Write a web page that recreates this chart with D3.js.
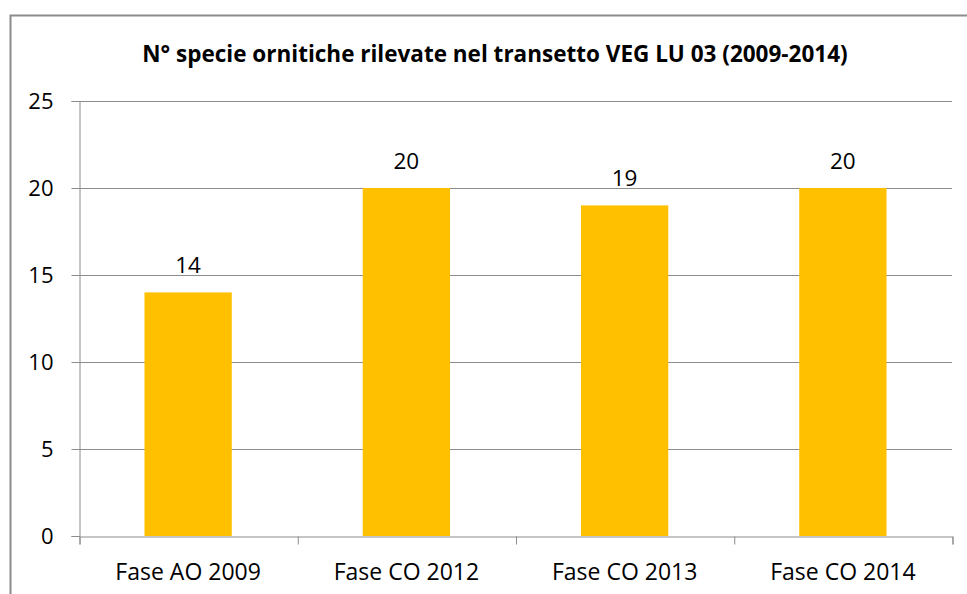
<!DOCTYPE html>
<html>
<head>
    <title>N° specie ornitiche</title>
    <script src='https://d3js.org/d3.v7.min.js'></script>
    <style>
        html, body {margin: 0; padding: 0; background: #fff;}
        text {font-family: 'Open Sans', sans-serif; fill: #000;}
    </style>
</head>
<body>
<div id="vis"></div>
<script>

// data
var categories = ["Fase AO 2009", "Fase CO 2012", "Fase CO 2013", "Fase CO 2014"];
var values = [14, 20, 19, 20];
var yTicks = [0, 5, 10, 15, 20, 25];
var title = "N° specie ornitiche rilevate nel transetto VEG LU 03 (2009-2014)";

var width = 967, height = 594;
var margin = {top: 101, left: 79, right: 15};

var svg = d3.select('#vis')
    .append('svg')
    .attr('width', width)
    .attr('height', height);

// chart frame (runs off the right and bottom edges)
svg.append('rect')
    .attr('x', 10.5).attr('y', 15.5)
    .attr('width', 980).attr('height', 600)
    .attr('fill', 'none')
    .attr('stroke', '#8c8c8c')
    .attr('stroke-width', 2);

svg.append('text')
    .attr('x', 495).attr('y', 62)
    .attr('text-anchor', 'middle')
    .style('font-weight', 'bold')
    .style('font-size', '22.5px')
    .text(title);

var g = svg.append('g')
    .attr('transform', 'translate(' + margin.left + ',' + margin.top + ')');
var w = width - margin.left - margin.right;
var h = 435;

var x_scale = d3.scaleBand().domain(categories).range([0, w]);
var y_scale = d3.scaleLinear().domain([0, 25]).range([h, 0]);

// gridlines
g.selectAll('.grid').data(yTicks.filter(function(d) {return d > 0;}))
    .enter().append('line')
    .attr('x1', 0).attr('x2', w)
    .attr('y1', function(d) {return Math.round(y_scale(d)) + 0.5;})
    .attr('y2', function(d) {return Math.round(y_scale(d)) + 0.5;})
    .attr('stroke', '#8c8c8c');

// y axis
var yAxis = g.append('g').attr('transform', 'translate(0.5,0)')
    .call(d3.axisLeft(y_scale).tickValues(yTicks).tickSize(8).tickPadding(8));
yAxis.select('.domain').attr('stroke', '#8c8c8c');
yAxis.selectAll('.tick line').attr('stroke', '#8c8c8c');
yAxis.selectAll('text').style('font-size', '22px').attr('fill', '#000').attr('dx', '-10');

// bars
var barW = x_scale.bandwidth() * 0.4;
g.selectAll('.bar').data(values).enter().append('rect')
    .attr('class', 'bar')
    .attr('x', function(d, i) {return x_scale(categories[i]) + (x_scale.bandwidth() - barW) / 2;})
    .attr('y', function(d) {return y_scale(d);})
    .attr('width', barW)
    .attr('height', function(d) {return h - y_scale(d);})
    .attr('fill', '#ffc000');

// value labels
g.selectAll('.lbl').data(values).enter().append('text')
    .attr('x', function(d, i) {return x_scale(categories[i]) + x_scale.bandwidth() / 2;})
    .attr('y', function(d) {return y_scale(d) - 19;})
    .attr('text-anchor', 'middle')
    .style('font-size', '22.5px')
    .text(function(d) {return d;});

// x axis
var xAxis = g.append('g').attr('transform', 'translate(0,' + (h + 0.5) + ')')
    .call(d3.axisBottom(d3.scaleLinear().domain([0, 4]).range([0.5, w + 0.5])).ticks(4).tickSize(8).tickFormat(''));
xAxis.select('.domain').attr('stroke', '#8c8c8c');
xAxis.selectAll('.tick line').attr('stroke', '#8c8c8c');

g.selectAll('.cat').data(categories).enter().append('text')
    .attr('x', function(d) {return x_scale(d) + x_scale.bandwidth() / 2;})
    .attr('y', h + 44)
    .attr('text-anchor', 'middle')
    .style('font-size', '23px')
    .text(function(d) {return d;});

</script>
</body>
</html>
